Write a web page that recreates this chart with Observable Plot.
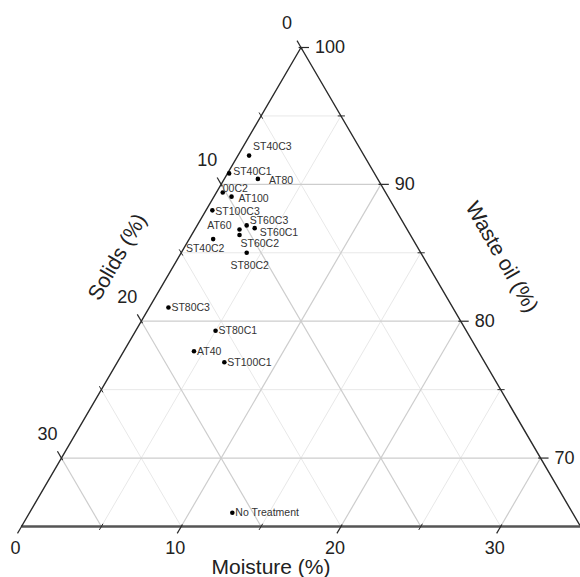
<!DOCTYPE html>
<html>
<head>
<meta charset="utf-8">
<script src="https://cdn.jsdelivr.net/npm/d3@7"></script>
<script src="https://cdn.jsdelivr.net/npm/@observablehq/plot@0.6"></script>
<style>
  html, body { margin: 0; padding: 0; background: #fff; }
  #chart { width: 580px; height: 577px; overflow: hidden; }
</style>
</head>
<body>
<div id="chart"></div>
<script>
// Sample compositions (%): moisture + solids + waste oil = 100
const samples  = ["ST40C3", "ST40C1", "AT80", "00C2", "AT100", "ST100C3", "ST60C3", "ST60C1", "AT60", "ST60C2", "ST40C2", "ST80C2", "ST80C3", "ST80C1", "AT40", "ST100C1", "No Treatment"];
const moisture = [0.7, 0.1, 2.1, 0.4, 1.1, 0.4, 3.1, 3.7, 2.8, 3.0, 1.5, 4.1, 1.2, 5.0, 4.4, 6.7, 12.7];
const solids   = [7.2, 9.1, 7.5, 10.2, 9.8, 11.5, 9.9, 9.5, 10.5, 10.7, 12.5, 10.9, 17.8, 15.7, 17.8, 16.3, 21.3];
const wasteOil = [92.1, 90.8, 90.4, 89.4, 89.1, 88.1, 87.0, 86.8, 86.7, 86.3, 86.0, 85.0, 81.0, 79.3, 77.8, 77.0, 66.0];

// Axis ticks (%)
const moistureTicks = [0, 10, 20, 30];
const solidsTicks   = [0, 10, 20, 30];
const oilTicks      = [100, 90, 80, 70];
const minorLevels   = [5, 15, 25];
const gridLevels    = [5, 10, 15, 20, 25, 30];

// Each component spans a 35 % window; waste oil runs 65–100
const span = 35;
const oilMin = 100 - span;

// Ternary (moisture, solids, oil) -> planar x / y (y is the oil value)
const proj = (m, s, o) => ({x: m + (o - oilMin) / 2, y: o});

// Label placement next to each point (pixel offsets)
const labelPlacement = {
  "ST40C3": {dx: 4, dy: -9},
  "ST40C1": {dx: 4, dy: -2},
  "AT80":   {dx: 11, dy: 2},
  "00C2":   {dx: 0, dy: -4},
  "AT100":  {dx: 7, dy: 2},
  "ST100C3":{dx: 3, dy: 1},
  "ST60C3": {dx: 3, dy: -5},
  "ST60C1": {dx: 5, dy: 4},
  "AT60":   {dx: -8, dy: -4, anchor: "end"},
  "ST60C2": {dx: 1, dy: 9},
  "ST40C2": {dx: -8, dy: 10, anchor: "middle"},
  "ST80C2": {dx: 3, dy: 13, anchor: "middle"}
};

const points = samples.map((name, i) => ({name, ...proj(moisture[i], solids[i], wasteOil[i])}));

// Grid lines for every 5 %, darker at every 10 %
const grid = [];
for (const v of gridLevels) {
  const major = v % 10 === 0;
  const s1 = proj(0, v, 100 - v), s2 = proj(span - v, v, oilMin);            // constant solids
  const m1 = proj(v, span - v, oilMin), m2 = proj(v, 0, 100 - v);            // constant moisture
  const o1 = proj(0, v, 100 - v), o2 = proj(v, 0, 100 - v);                  // constant oil
  for (const [a, b] of [[s1, s2], [m1, m2], [o1, o2]]) {
    grid.push({x1: a.x, y1: a.y, x2: b.x, y2: b.y, major});
  }
}

// Tick marks along each edge, continuing the grid directions outward
function tickRows(values, major) {
  const dOut = major ? 0.5 : 0.25, dIn = major ? 0.15 : 0.2;
  const rows = [];
  for (const v of values) {
    // moisture, bottom edge
    let a = proj(v, span - v - dIn, oilMin + dIn), b = proj(v, span - v + dOut, oilMin - dOut);
    rows.push({x1: a.x, y1: a.y, x2: b.x, y2: b.y});
    // solids, left edge
    a = proj(dIn, v, 100 - v - dIn); b = proj(-dOut, v, 100 - v + dOut);
    rows.push({x1: a.x, y1: a.y, x2: b.x, y2: b.y});
    // waste oil, right edge (oil = 100 - v)
    a = proj(v - dIn, dIn, 100 - v); b = proj(v + dOut, -dOut, 100 - v);
    rows.push({x1: a.x, y1: a.y, x2: b.x, y2: b.y});
  }
  return rows;
}
const majorTicks = tickRows([0, 10, 20, 30], true);
const minorTicks = tickRows(minorLevels, false);

const bottomLabels = moistureTicks.map(v => ({...proj(v, span - v, oilMin), t: String(v)}));
const leftLabels   = solidsTicks.map(v => ({...proj(0, v, 100 - v), t: String(v)}));
const rightLabels  = oilTicks.map(v => ({...proj(100 - v, 0, v), t: String(v)}));

const apex = proj(0, 0, 100), bl = proj(0, span, oilMin), br = proj(span, 0, oilMin);
const midBottom = proj(span / 2, span / 2, oilMin);
const midLeft = proj(0, span / 2, 100 - span / 2);
const midRight = proj(span / 2, 0, 100 - span / 2);

const font = "Arial, 'Liberation Sans', sans-serif";

const labelMarks = points.map(p => {
  const pl = labelPlacement[p.name] || {dx: 3, dy: 0};
  return Plot.text([p], {
    x: "x", y: "y", text: "name",
    dx: pl.dx, dy: pl.dy, textAnchor: pl.anchor || "start",
    fontSize: 10.5, fill: "#333"
  });
});

const chart = Plot.plot({
  width: 580,
  height: 577,
  style: {fontFamily: font, background: "#fff", overflow: "visible"},
  x: {domain: [0, span], range: [21, 580], axis: null},
  y: {domain: [oilMin, 100], range: [526, 47], axis: null},
  marks: [
    Plot.link(grid.filter(d => !d.major), {x1: "x1", y1: "y1", x2: "x2", y2: "y2", stroke: "#e8e8e8", strokeWidth: 1}),
    Plot.link(grid.filter(d => d.major), {x1: "x1", y1: "y1", x2: "x2", y2: "y2", stroke: "#cdcdcd", strokeWidth: 1.2}),
    Plot.line([br, apex, bl], {x: "x", y: "y", stroke: "#2a2a2a", strokeWidth: 1.4}),
    Plot.link([{a: bl, b: br}], {x1: d => d.a.x, y1: d => d.a.y, x2: d => d.b.x, y2: d => d.b.y, stroke: "#555", strokeWidth: 2.6}),
    Plot.link(majorTicks, {x1: "x1", y1: "y1", x2: "x2", y2: "y2", stroke: "#2a2a2a", strokeWidth: 1.2}),
    Plot.link(minorTicks, {x1: "x1", y1: "y1", x2: "x2", y2: "y2", stroke: "#2a2a2a", strokeWidth: 1}),
    Plot.text(bottomLabels, {x: "x", y: "y", text: "t", dx: -6, dy: 22, fontSize: 18, fill: "#222"}),
    Plot.text(leftLabels, {x: "x", y: "y", text: "t", dx: -14, dy: -24, fontSize: 18, fill: "#222"}),
    Plot.text(rightLabels, {x: "x", y: "y", text: "t", dx: 14, dy: 0, textAnchor: "start", fontSize: 18, fill: "#222"}),
    Plot.text([midBottom], {x: "x", y: "y", text: () => "Moisture (%)", dx: -30, dy: 41, fontSize: 21, fill: "#222"}),
    Plot.text([midLeft], {x: "x", y: "y", text: () => "Solids (%)", dx: -44, dy: -30, rotate: -60, fontSize: 21, fill: "#222"}),
    Plot.text([midRight], {x: "x", y: "y", text: () => "Waste oil (%)", dx: 61, dy: -30, rotate: 60, fontSize: 21, fill: "#222"}),
    Plot.dot(points, {x: "x", y: "y", r: 2.3, fill: "#000", stroke: "none"}),
    ...labelMarks
  ]
});

document.getElementById("chart").appendChild(chart);
</script>
</body>
</html>
